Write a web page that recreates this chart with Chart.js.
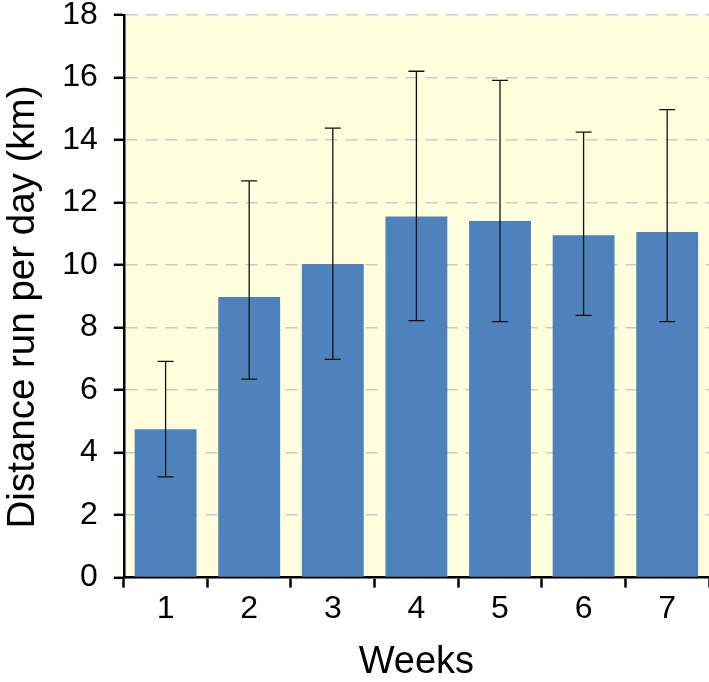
<!DOCTYPE html>
<html lang="en">
<head>
  <meta charset="UTF-8" />
  <title>Distance run per day</title>
  <style>
    html, body {
      margin: 0;
      padding: 0;
      background: #fff;
    }
    #wrap {
      width: 709px;
      height: 682px;
    }
  </style>
</head>
<body>
  <div id="wrap"><canvas id="runChart"></canvas></div>

  <script src="https://cdn.jsdelivr.net/npm/chart.js"></script>
  <script>
    const weeks = ['1', '2', '3', '4', '5', '6', '7'];
    const meanKm = [4.75, 8.98, 10.03, 11.55, 11.41, 10.95, 11.06];
    const upperKm = [6.92, 12.69, 14.38, 16.2, 15.91, 14.25, 14.97];
    const lowerKm = [3.22, 6.35, 6.98, 8.22, 8.19, 8.39, 8.19];
    const yTicks = [0, 2, 4, 6, 8, 10, 12, 14, 16, 18];

    const FONT = '"Liberation Sans", Arial, sans-serif';

    // pale yellow plot area
    const plotBackground = {
      id: 'plotBackground',
      beforeDraw(chart) {
        const { ctx, chartArea: a } = chart;
        ctx.save();
        ctx.fillStyle = '#fefedc';
        ctx.fillRect(a.left, a.top, a.right - a.left, a.bottom - a.top);
        ctx.restore();
      }
    };

    // whiskers from lowerKm to upperKm
    const errorBars = {
      id: 'errorBars',
      afterDatasetsDraw(chart) {
        const { ctx } = chart;
        const y = chart.scales.y;
        const meta = chart.getDatasetMeta(0);
        ctx.save();
        ctx.strokeStyle = '#111';
        ctx.lineWidth = 1.3;
        meta.data.forEach((bar, i) => {
          const x = bar.x;
          const top = y.getPixelForValue(upperKm[i]);
          const bot = y.getPixelForValue(lowerKm[i]);
          const cap = 8;
          ctx.beginPath();
          ctx.moveTo(x, top);
          ctx.lineTo(x, bot);
          ctx.moveTo(x - cap, top);
          ctx.lineTo(x + cap, top);
          ctx.moveTo(x - cap, bot);
          ctx.lineTo(x + cap, bot);
          ctx.stroke();
        });
        ctx.restore();
      }
    };

    new Chart(document.getElementById('runChart'), {
      type: 'bar',
      data: {
        labels: weeks,
        datasets: [{
          data: meanKm,
          backgroundColor: '#4f81bd',
          borderWidth: 0,
          barPercentage: 0.74,
          categoryPercentage: 1.0
        }]
      },
      options: {
        responsive: true,
        maintainAspectRatio: false,
        animation: false,
        layout: { padding: 0 },
        plugins: {
          legend: { display: false },
          tooltip: { enabled: false }
        },
        scales: {
          x: {
            border: { color: '#000', width: 2.5 },
            grid: {
              offset: true,
              drawOnChartArea: false,
              drawTicks: true,
              tickLength: 10,
              tickColor: '#000',
              tickWidth: 2.5
            },
            ticks: {
              color: '#000',
              padding: 2,
              font: { family: FONT, size: 32 }
            },
            title: {
              display: true,
              text: 'Weeks',
              color: '#000',
              padding: { top: 14, bottom: 0 },
              font: { family: FONT, size: 38, lineHeight: 1 }
            }
          },
          y: {
            min: 0,
            max: 18,
            afterBuildTicks(scale) {
              scale.ticks = yTicks.map(v => ({ value: v }));
            },
            // tick padding would otherwise push the plot top down
            afterFit(scale) {
              scale.paddingTop = 15;
            },
            border: { color: '#000', width: 2.5, dash: [12, 8] },
            grid: {
              color: '#cbcbcb',
              lineWidth: 1.6,
              drawTicks: true,
              tickLength: 10,
              tickColor: '#000',
              tickWidth: 2.5,
              tickBorderDash: []
            },
            ticks: {
              color: '#000',
              padding: 16,
              font: { family: FONT, size: 32, lineHeight: 1 }
            },
            title: {
              display: true,
              text: 'Distance run per day (km)  ',
              color: '#000',
              padding: { top: 0, bottom: 0 },
              font: { family: FONT, size: 38.5 }
            }
          }
        }
      },
      plugins: [plotBackground, errorBars]
    });
  </script>
</body>
</html>
